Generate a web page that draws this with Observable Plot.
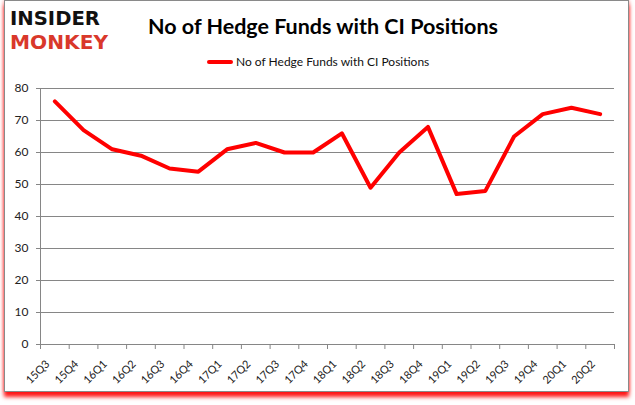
<!DOCTYPE html>
<html>
<head>
<meta charset="utf-8">
<script src="https://cdn.jsdelivr.net/npm/d3@7"></script>
<script src="https://cdn.jsdelivr.net/npm/@observablehq/plot@0.6"></script>
<style>
  html, body { margin: 0; padding: 0; background: #fff; }
  #wrap { position: relative; width: 635px; height: 405px; overflow: hidden; font-family: Lato, "Open Sans", sans-serif; }
  #frame { position: absolute; left: 4px; top: 0px; width: 623px; height: 390px; border: 1px solid #8a8a8a; background: #fff;
           box-shadow: 0 5px 4px rgba(255,0,0,0.9), 1px 0 3px rgba(255,120,120,0.4), -1px 0 3px rgba(255,120,120,0.4); }
  #chart { position: absolute; left: 0; top: 0; }
  #title { position: absolute; left: 148px; top: 13px; font-size: 21.5px; font-weight: bold; color: #000; white-space: nowrap; }
  #legend { position: absolute; left: 207px; top: 54px; font-size: 12px; color: #111; white-space: nowrap; display: flex; align-items: center; }
  #legend .sw { display: inline-block; width: 26px; height: 4px; background: #ff0000; border-radius: 2px; margin-right: 3px; }
  #logo { position: absolute; left: 0; top: 0; }
</style>
</head>
<body>
<div id="wrap">
  <div id="frame"></div>
  <div id="chart"></div>
  <svg id="logo" width="120" height="58">
    <text x="10" y="25" textLength="90" lengthAdjust="spacingAndGlyphs" font-family="DejaVu Sans" font-weight="bold" font-size="20" fill="#111">INSIDER</text>
    <text x="10" y="49" textLength="98" lengthAdjust="spacingAndGlyphs" font-family="DejaVu Sans" font-weight="bold" font-size="20" fill="#d9382b">MONKEY</text>
  </svg>
  <div id="title">No of Hedge Funds with CI Positions</div>
  <div id="legend"><span class="sw"></span>No of Hedge Funds with CI Positions</div>
</div>
<script>
const quarters = ["15Q3","15Q4","16Q1","16Q2","16Q3","16Q4","17Q1","17Q2","17Q3","17Q4","18Q1","18Q2","18Q3","18Q4","19Q1","19Q2","19Q3","19Q4","20Q1","20Q2"];
const funds = [76,67,61,59,55,54,61,63,60,60,66,49,60,68,47,48,65,72,74,72];
const yTicks = [0,10,20,30,40,50,60,70,80];

const data = quarters.map((q, i) => ({i, q, v: funds[i]}));
const idx = quarters.map((q, i) => i);
const bounds = d3.range(-0.5, quarters.length, 1);

const chart = Plot.plot({
  width: 635,
  height: 405,
  marginLeft: 40,
  marginRight: 21,
  marginTop: 88,
  marginBottom: 61,
  style: { background: "transparent", fontFamily: "Lato, 'Open Sans', sans-serif", color: "#222" },
  x: { type: "linear", domain: [-0.5, quarters.length - 0.5] },
  y: { domain: [0, 80] },
  marks: [
    Plot.gridY(yTicks, { stroke: "#868686", strokeOpacity: 1, strokeWidth: 1 }),
    Plot.axisY(yTicks, { tickSize: 4, stroke: "#868686", fontSize: 12, fill: "#222", tickPadding: 8, label: null }),
    Plot.ruleY([0], { stroke: "#868686" }),
    Plot.ruleX([-0.5], { stroke: "#868686" }),
    Plot.axisX(bounds, { tickSize: 5, stroke: "#868686", tickFormat: () => "", label: null }),
    Plot.axisX(idx, { tickSize: 0, tickFormat: (d) => quarters[d], tickRotate: -45, fontSize: 11, fill: "#222", label: null, dx: -7, dy: 6 }),
    Plot.lineY(data, { x: "i", y: "v", stroke: "#ff0000", strokeWidth: 4, strokeLinejoin: "round", strokeLinecap: "round" })
  ]
});
document.getElementById("chart").appendChild(chart);
</script>
</body>
</html>
